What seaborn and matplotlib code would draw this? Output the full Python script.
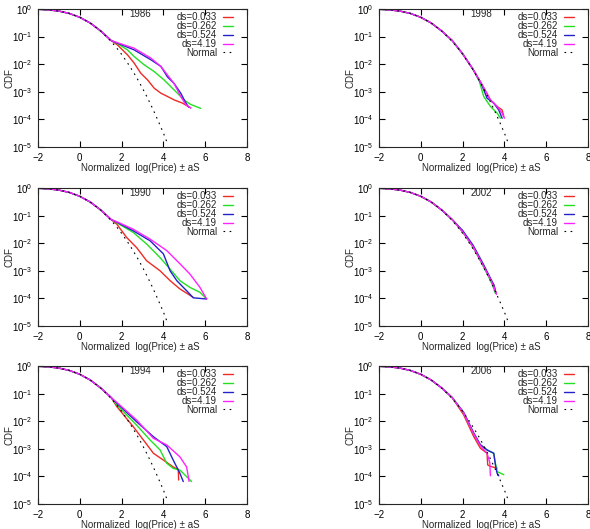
import numpy as np
import pandas as pd
import seaborn as sns
import matplotlib.pyplot as plt
from matplotlib.ticker import NullLocator

# --- data ---
ds_labels = ['ds=0.033', 'ds=0.262', 'ds=0.524', 'ds=4.19']
colors = ['#ee2a24', '#22e022', '#2222c8', '#ff22ff']

# shared body of all curves (they sit on the Gaussian here)
body_x = [-2.0, -1.5, -1.0, -0.5, 0.0, 0.5, 1.0, 1.5]
body_y = [0.977, 0.933, 0.841, 0.69, 0.5, 0.31, 0.16, 0.072]

normal_x = [-2.0, -1.5, -1.0, -0.5, 0.0, 0.5, 1.0, 1.5, 1.75, 2.0, 2.25, 2.5, 2.75,
            3.0, 3.25, 3.5, 3.75, 4.0, 4.2]
normal_y = [0.977, 0.933, 0.841, 0.691, 0.5, 0.309, 0.159, 0.0668, 0.0401, 0.0228,
            0.0122, 0.0062, 0.00298, 0.00135, 5.8e-4, 2.33e-4, 8.8e-5, 3.2e-5, 1.3e-5]

# tails, in ds order (0.033, 0.262, 0.524, 4.19)
x_1986 = [[1.8, 2.28, 2.6, 2.92, 3.24, 3.56, 3.88, 4.19, 4.51, 4.91, 5.31],
          [1.8, 2.28, 2.6, 3.08, 3.56, 4.03, 4.35, 4.67, 4.99, 5.3, 5.79],
          [1.8, 2.6, 3.4, 3.88, 4.19, 4.51, 4.83, 5.07, 5.2],
          [1.8, 2.6, 3.4, 3.88, 4.19, 4.51, 4.67, 4.83, 5.07, 5.31]]
y_1986 = [[0.050, 0.0219, 0.011, 0.0047, 0.0027, 0.00135, 8.9e-4, 6.8e-4, 5.1e-4, 3.9e-4, 2.6e-4],
          [0.056, 0.033, 0.019, 0.0095, 0.0054, 0.0027, 0.00155, 8.9e-4, 5.0e-4, 3.5e-4, 2.5e-4],
          [0.058, 0.033, 0.0145, 0.0083, 0.0035, 0.002, 8.9e-4, 4.0e-4, 2.8e-4],
          [0.060, 0.038, 0.0166, 0.0083, 0.0041, 0.002, 0.00117, 6.8e-4, 3.4e-4, 2.6e-4]]

x_1990 = [[1.77, 2.24, 2.72, 3.2, 3.84, 4.32, 4.79, 5.42],
          [1.77, 2.56, 3.2, 3.84, 4.32, 4.79, 5.27, 5.75, 6.07],
          [1.77, 2.56, 3.36, 4.0, 4.32, 4.64, 5.11, 5.43, 6.07],
          [1.77, 2.56, 3.36, 4.16, 4.79, 5.27, 5.75, 6.07]]
y_1990 = [[0.049, 0.0162, 0.0069, 0.0023, 0.001, 4.4e-4, 2.2e-4, 1.1e-4],
          [0.055, 0.0245, 0.0093, 0.003, 0.00115, 4.4e-4, 2.5e-4, 1.66e-4, 9.5e-5],
          [0.058, 0.028, 0.0123, 0.0041, 0.001, 4.4e-4, 1.9e-4, 1.05e-4, 9.5e-5],
          [0.060, 0.032, 0.0141, 0.0054, 0.0018, 7.6e-4, 2.5e-4, 9.5e-5]]

x_1994 = [[1.77, 2.56, 3.04, 3.52, 4.0, 4.47, 4.71, 4.73],
          [1.77, 2.72, 3.36, 3.84, 4.16, 4.47, 4.79, 5.35],
          [1.77, 2.72, 3.52, 4.16, 4.47, 4.79, 4.95],
          [1.77, 2.72, 3.52, 4.16, 4.79, 5.11, 5.19, 5.23]]
y_1994 = [[0.034, 0.0063, 0.0021, 6.9e-4, 3.9e-4, 2.2e-4, 1.8e-4, 7.4e-5],
          [0.039, 0.0072, 0.0021, 9.1e-4, 3.0e-4, 1.95e-4, 1.7e-4, 6.5e-5],
          [0.045, 0.0095, 0.00275, 0.0012, 3.9e-4, 1.3e-4, 6.5e-5],
          [0.048, 0.011, 0.0024, 0.00138, 5.1e-4, 2.2e-4, 1.0e-4, 6.6e-5]]

x_1998 = [[2.0, 2.5, 2.9, 3.33, 3.65, 3.89, 3.97],
          [2.0, 2.5, 2.8, 3.01, 3.33, 3.65, 3.81],
          [2.0, 2.5, 2.9, 3.17, 3.49, 3.73, 3.89],
          [2.0, 2.5, 2.9, 3.33, 3.65, 3.89, 4.0]]
y_1998 = [[0.024, 0.0065, 0.002, 5.1e-4, 2.95e-4, 2.2e-4, 1.3e-4],
          [0.024, 0.0065, 0.0024, 6.8e-4, 2.95e-4, 1.7e-4, 1.1e-4],
          [0.024, 0.0065, 0.0019, 5.9e-4, 3.9e-4, 2.2e-4, 1.1e-4],
          [0.024, 0.0065, 0.002, 5.1e-4, 2.95e-4, 1.7e-4, 1.1e-4]]

x_2002 = [[2.0, 2.5, 3.0, 3.3, 3.5, 3.6],
          [2.0, 2.5, 3.0, 3.3, 3.45, 3.55],
          [2.0, 2.5, 3.0, 3.3, 3.5, 3.6],
          [2.0, 2.5, 3.0, 3.3, 3.5, 3.62]]
y_2002 = [[0.026, 0.0072, 0.0015, 5.5e-4, 3.0e-4, 1.6e-4],
          [0.026, 0.0072, 0.0014, 5.0e-4, 2.8e-4, 1.6e-4],
          [0.029, 0.0085, 0.0017, 6.0e-4, 3.0e-4, 1.5e-4],
          [0.026, 0.0075, 0.0015, 5.5e-4, 2.6e-4, 1.4e-4]]

x_2006 = [[2.05, 2.53, 2.85, 3.17, 3.2, 3.33, 3.65],
          [2.05, 2.53, 2.85, 3.17, 3.33, 3.49, 3.57, 3.65, 3.97],
          [2.05, 2.53, 2.85, 3.17, 3.49, 3.57, 3.65, 3.73],
          [2.05, 2.53, 2.85, 3.17, 3.3, 3.33]]
y_2006 = [[0.017, 0.0028, 0.00105, 6.9e-4, 2.6e-4, 2.3e-4, 2.0e-4],
          [0.020, 0.0035, 0.0014, 9.1e-4, 7.9e-4, 6.9e-4, 3.0e-4, 1.5e-4, 1.15e-4],
          [0.021, 0.0038, 0.0014, 9.1e-4, 6.9e-4, 2.6e-4, 1.3e-4, 1.05e-4],
          [0.020, 0.0035, 0.0013, 6.9e-4, 3.2e-4, 1.05e-4]]

years = ['1986', '1998', '1990', '2002', '1994', '2006']
tails_x = [x_1986, x_1998, x_1990, x_2002, x_1994, x_2006]
tails_y = [y_1986, y_1998, y_1990, y_2002, y_1994, y_2006]

# --- style ---
sns.set_style('ticks')
plt.rcParams['font.family'] = ['Liberation Sans', 'DejaVu Sans']
plt.rcParams['axes.linewidth'] = 0.8

fig = plt.figure(figsize=(5.9, 5.29), dpi=100)
lefts = [38 / 590, 379 / 590]
bottoms = [1 - 147 / 529, 1 - 326 / 529, 1 - 504 / 529]
w, h = 209 / 590, 138 / 529
dots = (0, (1.5, 4))

for i, year in enumerate(years):
    row, col = i // 2, i % 2
    ax = fig.add_axes([lefts[col], bottoms[row], w, h])

    rows = []
    for k, lab in enumerate(ds_labels):
        xs = body_x + tails_x[i][k]
        ys = body_y + tails_y[i][k]
        for xv, yv in zip(xs, ys):
            rows.append((lab, xv, yv))
    df = pd.DataFrame(rows, columns=['ds', 'x', 'cdf'])

    sns.lineplot(data=df, x='x', y='cdf', hue='ds', units='ds', palette=colors,
                 estimator=None, sort=False, lw=1.0, ax=ax, legend=False)
    norm_df = pd.DataFrame({'x': normal_x, 'cdf': normal_y})
    sns.lineplot(data=norm_df, x='x', y='cdf', color='black', lw=0.8,
                 linestyle=dots, ax=ax)

    ax.set_yscale('log')
    ax.set_xlim(-2, 8)
    ax.set_ylim(1e-5, 1)
    ax.set_xticks([-2, 0, 2, 4, 6, 8])
    ax.set_yticks([1e-5, 1e-4, 1e-3, 1e-2, 1e-1, 1])
    ax.yaxis.set_minor_locator(NullLocator())
    ax.tick_params(direction='in', top=True, right=True, length=4, width=0.8,
                   labelsize=7, pad=4, colors='black')
    ax.set_xlabel('Normalized  log(Price) \u00b1 aS', fontsize=7)
    ax.set_ylabel('CDF', fontsize=7)
    ax.xaxis.set_label_coords(0.49, -0.115)
    ax.yaxis.set_label_coords(-0.112, 0.5)
    ax.text(0.49, 0.965, year, transform=ax.transAxes, ha='center', va='center',
            fontsize=7)

    handles = [plt.Line2D([], [], color=c, lw=1.0) for c in colors]
    handles.append(plt.Line2D([], [], color='black', lw=0.8, linestyle=dots))
    leg = ax.legend(handles, ds_labels + ['Normal'], loc='upper right',
                    bbox_to_anchor=(0.935, 0.975), frameon=False, fontsize=7,
                    markerfirst=False, handlelength=1.1, handletextpad=0.6,
                    labelspacing=-0.12, borderpad=0, borderaxespad=0)
    for c in leg._legend_handle_box.get_children():
        c.align = 'right'

fig.savefig('out.png', dpi=100)
